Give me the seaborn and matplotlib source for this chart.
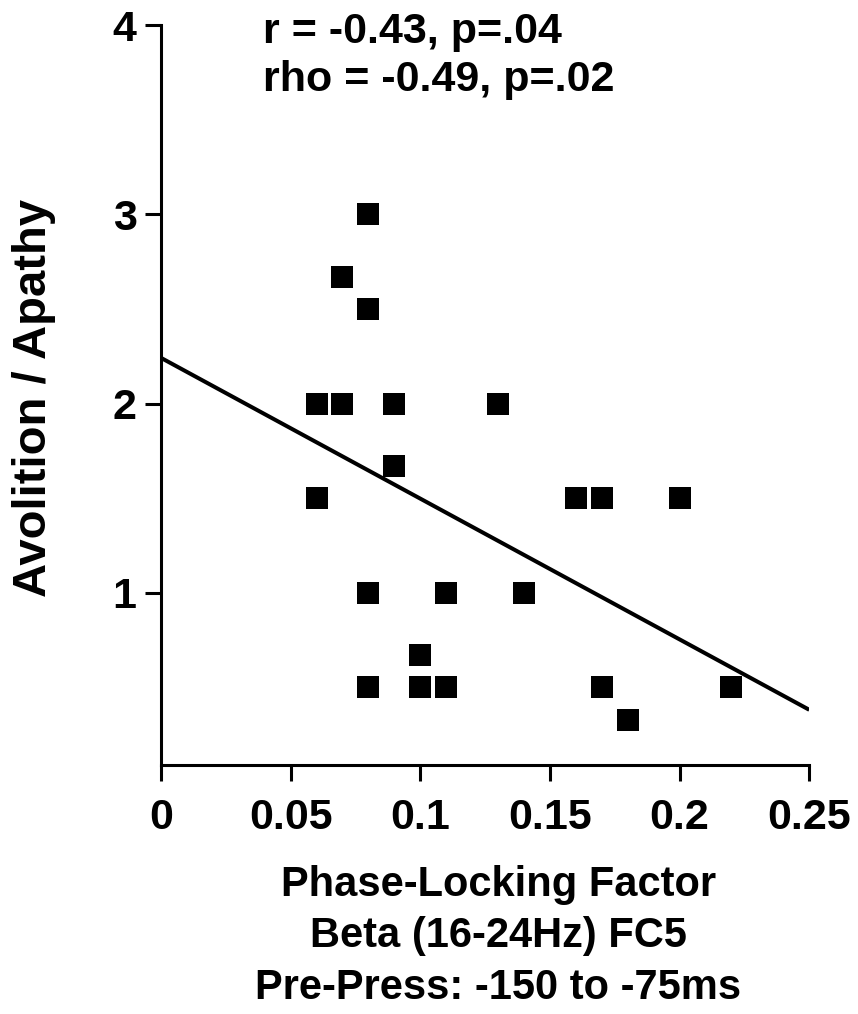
import numpy as np
import pandas as pd
import matplotlib
matplotlib.use('Agg')
import matplotlib.pyplot as plt
import seaborn as sns

# 数据
plf_beta = [0.08, 0.07, 0.08, 0.06, 0.07, 0.09, 0.13, 0.09, 0.06, 0.16, 0.17,
            0.20, 0.08, 0.11, 0.14, 0.10, 0.08, 0.10, 0.11, 0.17, 0.22, 0.18]
avolition = [3.0, 2.67, 2.5, 2.0, 2.0, 2.0, 2.0, 1.67, 1.5, 1.5, 1.5,
             1.5, 1.0, 1.0, 1.0, 0.67, 0.5, 0.5, 0.5, 0.5, 0.5, 0.33]
x_ticks = [0, 0.05, 0.1, 0.15, 0.2, 0.25]
x_tick_labels = ['0', '0.05', '0.1', '0.15', '0.2', '0.25']
y_ticks = [1, 2, 3, 4]
stats_text = 'r = -0.43, p=.04\nrho = -0.49, p=.02'

df = pd.DataFrame({'plf': plf_beta, 'avolition': avolition})

sns.set_style('ticks')
plt.rcParams['font.family'] = ['Liberation Sans', 'DejaVu Sans']
plt.rcParams['font.weight'] = 'bold'
for key in ['text.color', 'axes.labelcolor', 'xtick.color', 'ytick.color', 'axes.edgecolor']:
    plt.rcParams[key] = 'black'

fig = plt.figure(figsize=(8.58, 10.14), dpi=100)
ax = fig.add_axes([0.1876, 0.2456, 0.7556, 0.7297])
ax.set_xlim(0, 0.25)
ax.set_ylim(0.09, 4)

sns.regplot(data=df, x='plf', y='avolition', ax=ax, ci=None, truncate=False,
            marker='s', color='black',
            scatter_kws={'s': 250, 'linewidths': 0, 'alpha': 1},
            line_kws={'linewidth': 2.9, 'solid_capstyle': 'butt'})

ax.set_xlim(0, 0.25)
ax.set_ylim(0.09, 4)
ax.set_xticks(x_ticks)
ax.set_xticklabels(x_tick_labels)
ax.set_yticks(y_ticks)

sns.despine(ax=ax)
for side in ['left', 'bottom']:
    ax.spines[side].set_linewidth(2.2)
ax.tick_params(axis='both', length=11.5, width=2.2, labelsize=31)
ax.tick_params(axis='x', pad=12)
ax.tick_params(axis='y', pad=6)
for lab in ax.get_xticklabels() + ax.get_yticklabels():
    lab.set_fontweight('bold')

ax.set_xlabel('Phase-Locking Factor\nBeta (16-24Hz) FC5\nPre-Press: -150 to -75ms',
              fontsize=30, fontweight='bold', linespacing=1.37)
ax.xaxis.set_label_coords(0.52, -0.135)
ax.set_ylabel('Avolition / Apathy', fontsize=34, fontweight='bold')
ax.yaxis.set_label_coords(-0.162, 0.496)

ax.text(0.158, 1.018, stats_text, transform=ax.transAxes, fontsize=31,
        fontweight='bold', va='top', ha='left', linespacing=1.28)

fig.savefig('out.png', dpi=100)
